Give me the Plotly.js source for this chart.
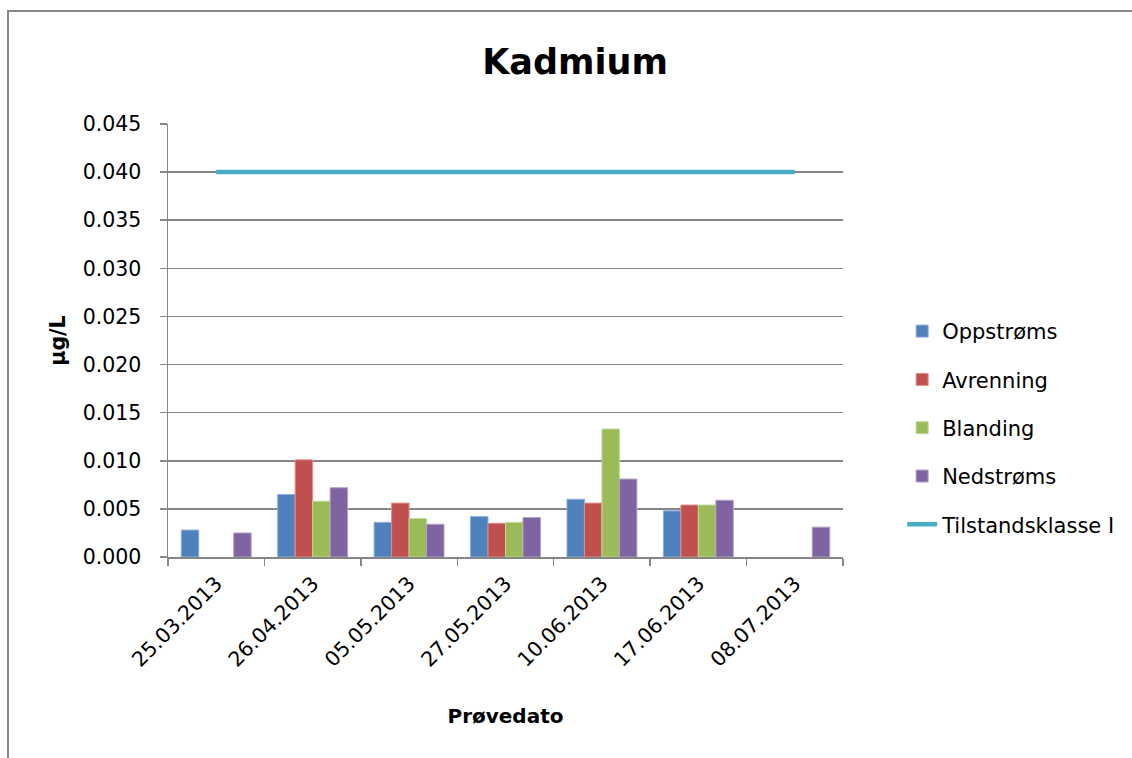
<!DOCTYPE html>
<html>
<head>
<meta charset="utf-8">
<script src="https://cdn.plot.ly/plotly-3.0.1.min.js"></script>
<style>
  html, body { margin: 0; padding: 0; background: #ffffff; }
  #wrap { position: relative; width: 1132px; height: 758px; }
  #chart { width: 1132px; height: 758px; }
  #frame {
    position: absolute; left: 7px; top: 10px; right: 0; bottom: 0;
    border-top: 2px solid #878787; border-left: 2px solid #878787;
    pointer-events: none;
  }
</style>
</head>
<body>
<div id="wrap">
  <div id="chart"></div>
  <div id="frame"></div>
</div>
<script>
// Sampling dates
const dates = ["25.03.2013", "26.04.2013", "05.05.2013", "27.05.2013", "10.06.2013", "17.06.2013", "08.07.2013"];

// Cadmium concentrations (µg/L) per sampling point
const oppstroms = [0.0028, 0.0065, 0.0036, 0.0042, 0.0060, 0.0048, null];
const avrenning = [null, 0.0101, 0.0056, 0.0035, 0.0056, 0.0054, null];
const blanding  = [null, 0.0058, 0.0040, 0.0036, 0.0133, 0.0054, null];
const nedstroms = [0.0025, 0.0072, 0.0034, 0.0041, 0.0081, 0.0059, 0.0031];

// Condition class I limit
const tilstandsklasse = [0.040, 0.040, 0.040, 0.040, 0.040, 0.040, 0.040];

const seriesNames = ["Oppstrøms", "Avrenning", "Blanding", "Nedstrøms", "Tilstandsklasse I"];
const yTicks = [0, 0.005, 0.010, 0.015, 0.020, 0.025, 0.030, 0.035, 0.040, 0.045];

const FONT = "'DejaVu Sans', 'Open Sans', sans-serif";
const GRID = "#868686";

function barTrace(name, values, color, edge, group) {
  return {
    type: "bar", name: name, x: dates, y: values,
    legendgroup: group,
    marker: { color: color, line: { color: edge, width: 1 } },
    hoverinfo: "x+y+name"
  };
}

const traces = [
  barTrace(seriesNames[0], oppstroms, "#4F81BD", "#8DAEDA", "g1"),
  barTrace(seriesNames[1], avrenning, "#C0504D", "#E08E8C", "g2"),
  barTrace(seriesNames[2], blanding,  "#9BBB59", "#C3D99B", "g3"),
  barTrace(seriesNames[3], nedstroms, "#8064A2", "#B3A2C9", "g4"),
  {
    type: "scatter", mode: "lines", name: seriesNames[4],
    x: dates, y: tilstandsklasse, legendgroup: "g5",
    line: { color: "#4BACC6", width: 4.5 }
  }
];

const layout = {
  width: 1132, height: 758,
  margin: { l: 168, r: 288, t: 124, b: 201 },
  paper_bgcolor: "#ffffff", plot_bgcolor: "#ffffff",
  font: { family: FONT, size: 20.5, color: "#000000" },
  title: {
    text: "<b>Kadmium</b>",
    font: { family: FONT, size: 35, color: "#000000" },
    x: 0.508, xanchor: "center", y: 0.918, yanchor: "middle"
  },
  barmode: "group",
  bargap: 0.275,
  bargroupgap: 0,
  showlegend: true,
  legend: {
    x: 1.086, xanchor: "left", y: 0.298, yanchor: "middle",
    font: { family: FONT, size: 21, color: "#000000" },
    tracegroupgap: 18, traceorder: "grouped",
    bgcolor: "rgba(0,0,0,0)"
  },
  xaxis: {
    type: "category",
    tickmode: "array", tickvals: dates, ticktext: dates,
    tickson: "boundaries",
    ticks: "outside", ticklen: 7, tickcolor: GRID, tickwidth: 1.5,
    tickangle: -45,
    ticklabelstandoff: 5,
    showline: true, linecolor: GRID, linewidth: 1.5,
    showgrid: false, zeroline: false,
    tickfont: { family: FONT, size: 20.5 },
    title: { text: "<b>Prøvedato</b>", font: { family: FONT, size: 20 }, standoff: 38 }
  },
  yaxis: {
    range: [0, 0.045],
    tickmode: "array", tickvals: yTicks,
    tickformat: ".3f",
    ticks: "outside", ticklen: 7, tickcolor: GRID, tickwidth: 1.5,
    ticklabelstandoff: 14,
    showline: true, linecolor: GRID, linewidth: 1.5,
    showgrid: true, gridcolor: GRID, gridwidth: 1.5,
    zeroline: false,
    tickfont: { family: FONT, size: 20.5 },
    title: { text: "<b>µg/L</b>", font: { family: FONT, size: 20.5 }, standoff: 11 }
  }
};

Plotly.newPlot("chart", traces, layout, { displayModeBar: false, staticPlot: true });
</script>
</body>
</html>
